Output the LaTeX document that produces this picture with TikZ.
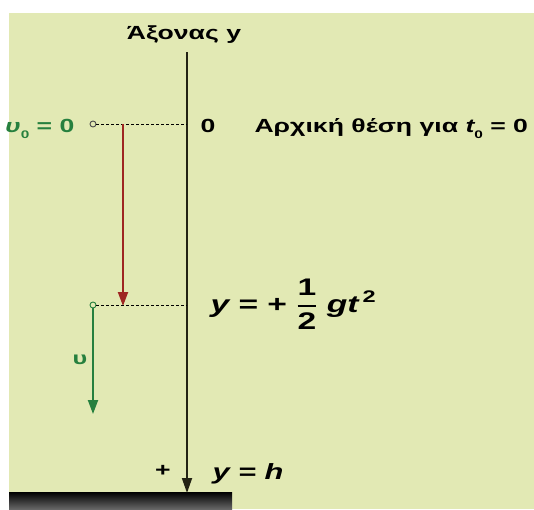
\documentclass[tikz,border=0pt]{standalone}
\usepackage{fontspec}
\usepackage{amsmath}
\setmainfont{Liberation Sans}[FakeStretch=1.4]
\usetikzlibrary{arrows.meta}
\definecolor{bg}{RGB}{226,233,180}
\definecolor{dgreen}{RGB}{38,128,62}
\definecolor{dred}{RGB}{158,38,34}
\definecolor{axcol}{RGB}{35,35,20}
\newcommand{\lowsub}[1]{\raisebox{-0.32em}{\fontsize{11}{12}\selectfont\upshape #1}}
\tikzset{
  pt/.style={circle, fill=bg, inner sep=0pt, minimum size=6pt, line width=0.9pt},
  guide/.style={dashed, dash pattern=on 3pt off 2pt, line width=0.8pt, black},
  vec/.style={line width=2pt, -{Triangle[width=10pt,length=14pt]}},
  lbl/.style={font=\bfseries\fontsize{19}{22}\selectfont},
}
\begin{document}
\begin{tikzpicture}[x=1pt,y=-1pt]
\useasboundingbox (0,0) rectangle (534,509);
\fill[white] (0,0) rectangle (534,509);
\fill[bg] (9,13) rectangle (534,509);
\shade[top color=black, bottom color=black!60] (9,492) rectangle (232,509);

% axis
\coordinate (top) at (187,52);
\coordinate (bot) at (187,493);
\coordinate (a0) at (187,124);
\coordinate (a1) at (187,305);
\draw[axcol, line width=1.8pt, -{Triangle[width=10pt,length=15pt]}] (top) -- (bot);
\node[lbl, anchor=base] (title) at (184,39) {Άξονας y};

% initial position
\node[pt, draw=black!70] (c1) at (93,124) {};
\draw[guide] (c1) -- (a0);
\coordinate (r1) at (123,124);
\coordinate (r2) at (123,306);
\draw[vec, dred] (r1) -- (r2);
\node[lbl, anchor=base east, text=dgreen] (v0) at (78,132) {{\itshape υ}\lowsub{0}\ = 0};
\node[lbl, anchor=base] (zero) at (208,132) {0};
\node[lbl, anchor=base west] (start) at (251,132) {Αρχική θέση για {\itshape t}\lowsub{0} = 0};

% later position
\node[pt, draw=dgreen] (c2) at (93,305) {};
\draw[guide] (c2) -- (a1);
\coordinate (g2) at (93,414);
\draw[vec, dgreen] (c2) -- (g2);
\node[text=dgreen, font=\bfseries\fontsize{18}{20}\selectfont] (v) at (80,360) {υ};
\node[anchor=base west, font=\bfseries\fontsize{24}{28}\selectfont] (eq) at (207,312)
  {{\itshape y} = + $\genfrac{}{}{1.6pt}{0}{\hbox{1}}{\hbox{2}}$ {\itshape gt}\,\textsuperscript{2}};

% ground
\node[font=\bfseries\fontsize{19}{20}\selectfont] (plus) at (163,471) {+};
\node[anchor=base west, font=\bfseries\itshape\fontsize{22}{26}\selectfont] (yh) at (209,479) {y = h};
\end{tikzpicture}
\end{document}
